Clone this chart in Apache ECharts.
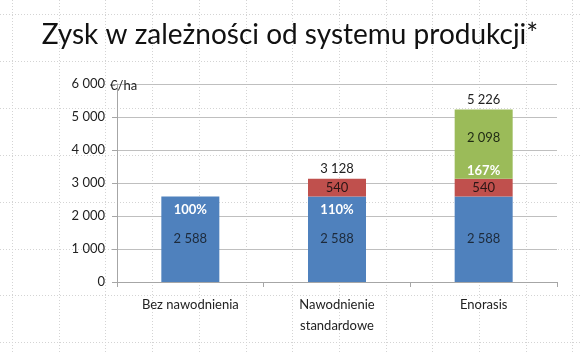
<!DOCTYPE html>
<html>
<head>
    <meta charset="utf-8">
    <title>Zysk w zależności od systemu produkcji</title>
    <script src="https://cdn.jsdelivr.net/npm/echarts@6/dist/echarts.min.js"></script>
    <style>
        html, body { margin: 0; padding: 0; background: #fff; }
    </style>
</head>
<body>
    <div id="chart" style="width: 580px; height: 353px;"></div>

    <script>
    // data
    const categories = ['Bez nawodnienia', 'Nawodnienie\nstandardowe', 'Enorasis'];
    const baseProfit = [2588, 2588, 2588];
    const irrigationGain = [0, 540, 540];
    const enorasisGain = [0, 0, 2098];
    const percentLabels = ['100%', '110%', '167%'];
    const yTicks = [0, 1000, 2000, 3000, 4000, 5000, 6000];

    const totals = categories.map((c, i) => baseProfit[i] + irrigationGain[i] + enorasisGain[i]);

    const fmt = v => String(v).replace(/\B(?=(\d{3})+(?!\d))/g, ' ');
    const FONT = 'Lato';

    // faint dotted slide grid in the background
    const bgLines = [];
    for (let x = 12; x < 580; x += 46.7) {
        bgLines.push({ type: 'line', z: -10, silent: true,
            shape: { x1: Math.round(x) + 0.5, y1: 0, x2: Math.round(x) + 0.5, y2: 353 },
            style: { stroke: '#d4d4d4', lineWidth: 1, lineDash: [1, 2] } });
    }
    for (let y = 14; y < 353; y += 46.9) {
        bgLines.push({ type: 'line', z: -10, silent: true,
            shape: { x1: 0, y1: Math.round(y) + 0.5, x2: 580, y2: Math.round(y) + 0.5 },
            style: { stroke: '#d4d4d4', lineWidth: 1, lineDash: [1, 2] } });
    }

    const chart = echarts.init(document.getElementById('chart'));

    const option = {
        backgroundColor: '#fff',
        animation: false,
        title: {
            text: 'Zysk w zależności od systemu produkcji*',
            left: 'center',
            top: 16,
            textStyle: { fontFamily: FONT, fontSize: 28, fontWeight: 'normal', color: '#111' }
        },
        graphic: bgLines,
        grid: { left: 117, right: 23, top: 84, bottom: 71 },
        xAxis: {
            type: 'category',
            data: categories,
            axisLine: { lineStyle: { color: '#a6a6a6' } },
            axisTick: { show: true, interval: 0, length: 5, lineStyle: { color: '#a6a6a6' } },
            axisLabel: { interval: 0, margin: 12, fontFamily: FONT, fontSize: 13, color: '#222', lineHeight: 21 }
        },
        yAxis: {
            type: 'value',
            min: 0,
            max: 6000,
            interval: 1000,
            name: '€/ha',
            nameLocation: 'end',
            nameGap: -2,
            nameMoveOverlap: false,
            nameTextStyle: { fontFamily: FONT, fontSize: 13, color: '#222', align: 'left',
                verticalAlign: 'middle', padding: [0, 0, 0, -7] },
            axisLine: { show: true, lineStyle: { color: '#a6a6a6' } },
            axisTick: { show: true, length: 5, lineStyle: { color: '#a6a6a6' } },
            axisLabel: { margin: 12, fontFamily: FONT, fontSize: 13, color: '#222',
                formatter: v => yTicks.includes(v) ? fmt(v) : '' },
            splitLine: { lineStyle: { color: '#bfbfbf' } }
        },
        series: [
            {
                name: 'Bez nawodnienia',
                type: 'bar',
                stack: 'zysk',
                barWidth: 58,
                data: baseProfit,
                itemStyle: { color: '#4f81bd' },
                label: {
                    show: true,
                    position: 'inside',
                    fontFamily: FONT,
                    formatter: p => {
                        const pct = p.dataIndex < 2 ? percentLabels[p.dataIndex] : ' ';
                        return '{p|' + pct + '}\n{v|' + fmt(p.value) + '}\n{e| }';
                    },
                    rich: {
                        p: { fontFamily: FONT, fontSize: 13, fontWeight: 'bold', color: '#fff', lineHeight: 29 },
                        v: { fontFamily: FONT, fontSize: 13, color: '#1d2a3a', lineHeight: 29 },
                        e: { fontSize: 13, lineHeight: 29 }
                    }
                }
            },
            {
                name: 'Nawodnienie standardowe',
                type: 'bar',
                stack: 'zysk',
                data: irrigationGain.map(v => v || null),
                itemStyle: { color: '#c0504d' },
                label: {
                    show: true,
                    position: 'inside',
                    fontFamily: FONT,
                    fontSize: 13,
                    color: '#2a1515',
                    formatter: p => fmt(p.value)
                }
            },
            {
                name: 'Enorasis',
                type: 'bar',
                stack: 'zysk',
                data: enorasisGain.map(v => v || null),
                itemStyle: { color: '#9bbb59' },
                label: {
                    show: true,
                    position: 'inside',
                    fontFamily: FONT,
                    formatter: p => '{e| }\n{v|' + fmt(p.value) + '}\n{p|' + percentLabels[p.dataIndex] + '}',
                    rich: {
                        p: { fontFamily: FONT, fontSize: 13, fontWeight: 'bold', color: '#fff', lineHeight: 33 },
                        v: { fontFamily: FONT, fontSize: 13, color: '#1f2a14', lineHeight: 33 },
                        e: { fontSize: 13, lineHeight: 21 }
                    }
                }
            },
            {
                name: 'Razem',
                type: 'bar',
                stack: 'zysk',
                data: totals.map((t, i) => (irrigationGain[i] || enorasisGain[i]) ? 0 : null),
                itemStyle: { color: 'transparent' },
                label: {
                    show: true,
                    position: 'top',
                    distance: 3,
                    fontFamily: FONT,
                    fontSize: 13,
                    color: '#222',
                    formatter: p => fmt(totals[p.dataIndex])
                }
            }
        ]
    };

    chart.setOption(option);
    </script>
</body>
</html>
